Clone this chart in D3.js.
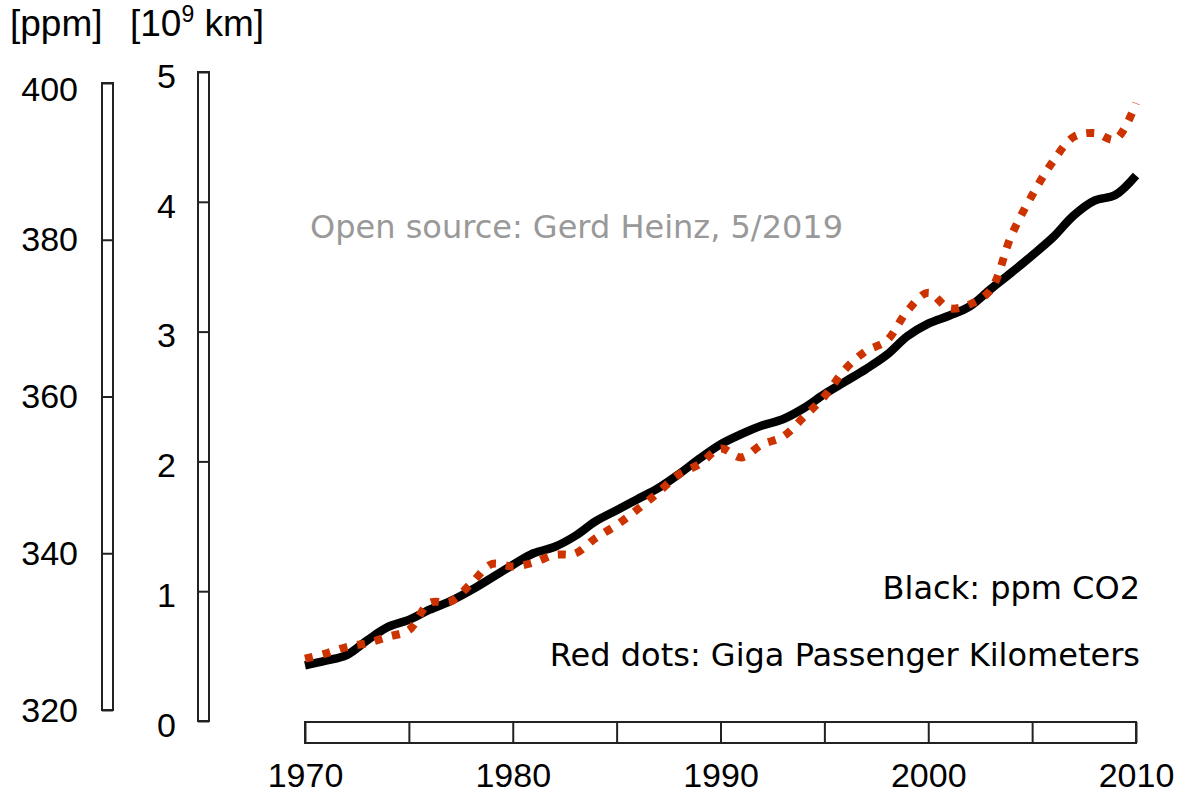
<!DOCTYPE html>
<html lang="en">
<head>
<meta charset="utf-8">
<style>
  body { margin: 0; background: #fff; }
  svg { display: block; }
  .ann { font-family: "DejaVu Sans", Verdana, sans-serif; font-size: 32px; }
  .ax text { font-family: "Liberation Sans", Arial, sans-serif; font-size: 34px; fill: #000; }
</style>
</head>
<body>
<svg id="chart" width="1186" height="793"></svg>
<script src="https://d3js.org/d3.v7.min.js"></script>
<script>
// data
var years = [1970, 1971, 1972, 1973, 1974, 1975, 1976, 1977, 1978, 1979,
             1980, 1981, 1982, 1983, 1984, 1985, 1986, 1987, 1988, 1989,
             1990, 1991, 1992, 1993, 1994, 1995, 1996, 1997, 1998, 1999,
             2000, 2001, 2002, 2003, 2004, 2005, 2006, 2007, 2008, 2009, 2010];

// black line: CO2 in ppm
var ppmCO2 = [325.7, 326.3, 327.0, 328.9, 330.6, 331.5, 332.8, 333.9, 335.3, 336.9,
              338.5, 340.0, 340.8, 342.2, 344.1, 345.5, 346.9, 348.3, 350.1, 352.1,
              353.9, 355.2, 356.3, 357.1, 358.5, 360.3, 361.9, 363.5, 365.3, 367.7,
              369.3, 370.3, 371.5, 373.7, 375.8, 378.0, 380.3, 383.1, 385.0, 385.7, 388.2];

// red dots: giga passenger kilometers, in 10^9 km
var gigaPkm = [0.48, 0.52, 0.57, 0.60, 0.65, 0.70, 0.91, 0.92, 1.06, 1.21,
               1.19, 1.22, 1.28, 1.29, 1.41, 1.51, 1.63, 1.76, 1.90, 1.98,
               2.10, 2.03, 2.13, 2.19, 2.34, 2.50, 2.71, 2.85, 2.93, 3.16,
               3.30, 3.18, 3.21, 3.32, 3.74, 4.05, 4.31, 4.50, 4.53, 4.48, 4.76];

var ppmTicks = [320, 340, 360, 380, 400];
var kmTicks = [0, 1, 2, 3, 4, 5];
var yearTicks = [1970, 1975, 1980, 1985, 1990, 1995, 2000, 2005, 2010];

var svg = d3.select("#chart");

// scales
var x = d3.scaleLinear().domain([1970, 2010]).range([305, 1136]);
var yPpm = d3.scaleLinear().domain([320, 400]).range([710, 83]);
var yKm = d3.scaleLinear().domain([0, 5]).range([721, 72]);

var barW = 11;

// ppm axis bar
var ppmRight = 113;
svg.append("rect")
  .attr("x", ppmRight - barW).attr("y", yPpm(400))
  .attr("width", barW).attr("height", yPpm(320) - yPpm(400))
  .attr("fill", "#fff").attr("stroke", "#222").attr("stroke-width", 2);
var gPpm = svg.append("g").attr("class", "ax")
  .attr("transform", "translate(" + ppmRight + ",0)")
  .call(d3.axisLeft(yPpm).tickValues(ppmTicks).tickSize(barW).tickPadding(24));
gPpm.select(".domain").remove();
gPpm.selectAll(".tick line").attr("stroke", "#222").attr("stroke-width", 2);
gPpm.selectAll(".tick text").attr("dy", function(d) { return d === 400 ? "0.5em" : "0.33em"; });

// km axis bar
var kmRight = 209;
svg.append("rect")
  .attr("x", kmRight - barW).attr("y", yKm(5))
  .attr("width", barW).attr("height", yKm(0) - yKm(5))
  .attr("fill", "#fff").attr("stroke", "#222").attr("stroke-width", 2);
var gKm = svg.append("g").attr("class", "ax")
  .attr("transform", "translate(" + kmRight + ",0)")
  .call(d3.axisLeft(yKm).tickValues(kmTicks).tickSize(barW).tickPadding(22)
    .tickFormat(d3.format("d")));
gKm.select(".domain").remove();
gKm.selectAll(".tick line").attr("stroke", "#222").attr("stroke-width", 2);
gKm.selectAll(".tick text").attr("dy", "0.45em");

// year axis bar
var xBottom = 743, xBarH = 21;
svg.append("rect")
  .attr("x", x(1970)).attr("y", xBottom - xBarH)
  .attr("width", x(2010) - x(1970)).attr("height", xBarH)
  .attr("fill", "#fff").attr("stroke", "#222").attr("stroke-width", 2);
var gX = svg.append("g").attr("class", "ax")
  .attr("transform", "translate(0," + xBottom + ")")
  .call(d3.axisBottom(x).tickValues(yearTicks).tickSize(-xBarH).tickPadding(20)
    .tickFormat(function(d) { return d % 10 === 0 ? d : ""; }));
gX.select(".domain").remove();
gX.selectAll(".tick line").attr("stroke", "#222").attr("stroke-width", 2);

// unit headers
var hdr = svg.append("g")
  .attr("font-family", "'Liberation Sans', Arial, sans-serif")
  .attr("font-size", 37);
hdr.append("text").attr("x", 10).attr("y", 36).text("[ppm]");
var km = hdr.append("text").attr("x", 130).attr("y", 36);
km.append("tspan").text("[10");
km.append("tspan").attr("font-size", 23).attr("dy", -14).text("9");
km.append("tspan").attr("dy", 14).text(" km]");

// lines
var rows = years.map(function(yr, i) { return {year: yr, ppm: ppmCO2[i], km: gigaPkm[i]}; });

var ppmLine = d3.line()
  .x(function(d) { return x(d.year); })
  .y(function(d) { return yPpm(d.ppm); })
  .curve(d3.curveCatmullRom.alpha(0.5));

var kmLine = d3.line()
  .x(function(d) { return x(d.year); })
  .y(function(d) { return yKm(d.km); })
  .curve(d3.curveCatmullRom.alpha(0.5));

svg.append("path").datum(rows)
  .attr("d", ppmLine)
  .attr("fill", "none")
  .attr("stroke", "#000")
  .attr("stroke-width", 8.5);

svg.append("path").datum(rows)
  .attr("d", kmLine)
  .attr("fill", "none")
  .attr("stroke", "#cc3300")
  .attr("stroke-width", 8)
  .attr("stroke-dasharray", "8 10");

// annotations
svg.append("text").attr("class", "ann")
  .attr("x", 310).attr("y", 238)
  .attr("fill", "#999")
  .text("Open source: Gerd Heinz, 5/2019");

svg.append("text").attr("class", "ann")
  .attr("x", 1140).attr("y", 599)
  .attr("text-anchor", "end")
  .text("Black: ppm CO2");

svg.append("text").attr("class", "ann")
  .attr("x", 1140).attr("y", 666)
  .attr("text-anchor", "end")
  .text("Red dots: Giga Passenger Kilometers");
</script>
</body>
</html>
